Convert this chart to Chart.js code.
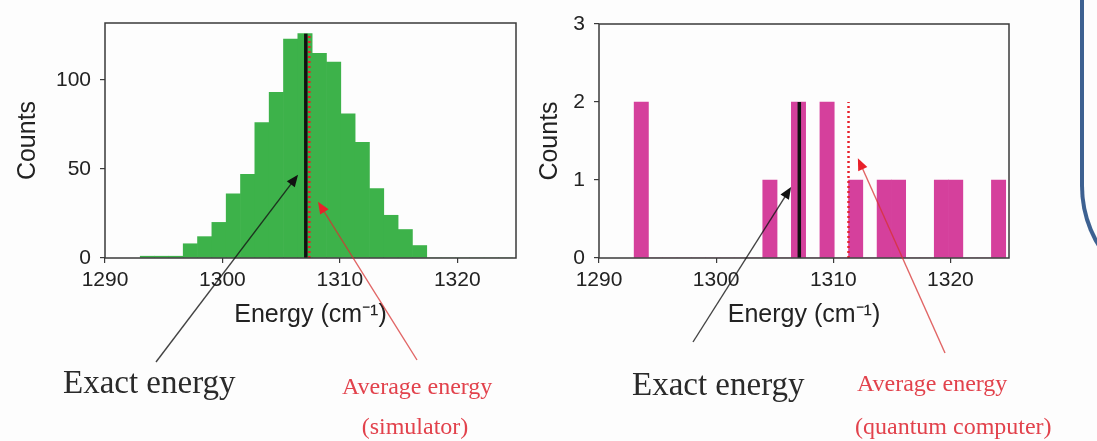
<!DOCTYPE html>
<html>
<head>
<meta charset="utf-8">
<script src="https://cdn.jsdelivr.net/npm/chart.js@4.4.1/dist/chart.umd.min.js"></script>
<style>
  html, body { margin: 0; padding: 0; background: #fdfdfd; }
  body { width: 1097px; height: 441px; overflow: hidden; position: relative; }
  canvas { position: absolute; top: 0; }
  #simChart { left: 0; }
  #qcChart { left: 520px; }
  .slide-edge {
    position: absolute; left: 1080px; top: -20px; width: 200px; height: 322px;
    box-sizing: border-box;
    border-left: 4px solid #3d6191; border-bottom: 4px solid #3d6191;
    border-bottom-left-radius: 116px;
  }
</style>
</head>
<body>
<canvas id="simChart" width="520" height="441"></canvas>
<canvas id="qcChart" width="577" height="441"></canvas>
<div class="slide-edge"></div>
<script>
// histogram bin edges (cm^-1), shared by both panels
const binEdges = [1293.00, 1294.22, 1295.44, 1296.66, 1297.88, 1299.10, 1300.32, 1301.54, 1302.76,
    1303.98, 1305.20, 1306.42, 1307.64, 1308.86, 1310.08, 1311.30, 1312.52, 1313.74, 1314.96,
    1316.18, 1317.40, 1318.62, 1319.84, 1321.06, 1322.28, 1323.50, 1324.72];

// counts per bin
const simCounts = [1, 1, 1, 8, 12, 20, 36, 47, 76, 93, 123, 126, 115, 110, 81, 65, 39, 24, 16, 7, 0, 0, 0, 0, 0, 0];
const qcCounts = [2, 0, 0, 0, 0, 0, 0, 0, 0, 1, 0, 2, 0, 2, 0, 1, 0, 1, 1, 0, 0, 1, 1, 0, 0, 1];

// reference energies
const exactEnergy = 1307.1;
const simAverage = 1307.4;
const qcAverage = 1311.3;

// axes
const xRange = [1290, 1325];
const xTicks = [1290, 1300, 1310, 1320];
const simYMax = 132;
const simYTicks = [0, 50, 100];
const qcYMax = 3;
const qcYTicks = [0, 1, 2, 3];

document.addEventListener('DOMContentLoaded', function () {
    const binCenters = binEdges.slice(0, -1).map((e, i) => (e + binEdges[i + 1]) / 2);
    const tickFont = { family: '"Liberation Sans", Arial, sans-serif', size: 21 };
    const titleFont = { family: '"Liberation Sans", Arial, sans-serif', size: 25 };
    const serif = '"Liberation Serif", "DejaVu Serif", serif';

    // box around the plot area, like matplotlib spines
    const framePlugin = {
        id: 'frame',
        afterDatasetsDraw(chart) {
            const { ctx, chartArea: a } = chart;
            ctx.save();
            ctx.strokeStyle = '#3a3a3a';
            ctx.lineWidth = 1.5;
            ctx.strokeRect(a.left, a.top, a.right - a.left, a.bottom - a.top);
            ctx.restore();
        }
    };

    // arrows + captions; tail in canvas pixels, tip in data units
    const notesPlugin = {
        id: 'notes',
        afterDraw(chart, args, opts) {
            const { ctx, scales } = chart;
            ctx.save();
            opts.arrows.forEach(a => {
                const tx = scales.x.getPixelForValue(a.tip[0]);
                const ty = scales.y.getPixelForValue(a.tip[1]);
                const [fx, fy] = a.tail;
                const ang = Math.atan2(ty - fy, tx - fx);
                ctx.strokeStyle = a.color;
                ctx.lineWidth = 1.4;
                ctx.beginPath();
                ctx.moveTo(fx, fy);
                ctx.lineTo(tx - 8 * Math.cos(ang), ty - 8 * Math.sin(ang));
                ctx.stroke();
                ctx.fillStyle = a.head;
                ctx.beginPath();
                ctx.moveTo(tx, ty);
                ctx.lineTo(tx - 12 * Math.cos(ang) + 5 * Math.sin(ang), ty - 12 * Math.sin(ang) - 5 * Math.cos(ang));
                ctx.lineTo(tx - 12 * Math.cos(ang) - 5 * Math.sin(ang), ty - 12 * Math.sin(ang) + 5 * Math.cos(ang));
                ctx.closePath();
                ctx.fill();
            });
            ctx.textBaseline = 'middle';
            opts.labels.forEach(l => {
                ctx.font = l.size + 'px ' + serif;
                ctx.fillStyle = l.color;
                ctx.textAlign = l.align || 'left';
                ctx.fillText(l.text, l.x, l.y);
            });
            ctx.restore();
        }
    };

    function makeChart(id, counts, barColor, yMax, yTicks, average, pad, yWidth, notes) {
        const peak = Math.max(...counts);
        const ctx = document.getElementById(id).getContext('2d');
        return new Chart(ctx, {
            type: 'bar',
            data: {
                datasets: [
                    {
                        type: 'line',
                        label: 'Average energy',
                        data: [{ x: average, y: 0 }, { x: average, y: peak }],
                        borderColor: '#e8202a',
                        borderWidth: 2.5,
                        borderDash: [2, 3],
                        pointRadius: 0,
                        order: 1
                    },
                    {
                        type: 'line',
                        label: 'Exact energy',
                        data: [{ x: exactEnergy, y: 0 }, { x: exactEnergy, y: peak }],
                        borderColor: '#111111',
                        borderWidth: 3.5,
                        pointRadius: 0,
                        order: 2
                    },
                    {
                        label: 'Counts',
                        data: binCenters.map((c, i) => ({ x: c, y: counts[i] })),
                        backgroundColor: barColor,
                        borderWidth: 0,
                        barPercentage: 1,
                        categoryPercentage: 1,
                        order: 3
                    }
                ]
            },
            options: {
                responsive: false,
                animation: false,
                layout: { padding: pad },
                plugins: {
                    legend: { display: false },
                    tooltip: { enabled: false },
                    notes: notes
                },
                scales: {
                    x: {
                        type: 'linear',
                        offset: false,
                        min: xRange[0],
                        max: xRange[1],
                        afterBuildTicks: s => { s.ticks = xTicks.map(v => ({ value: v })); },
                        afterFit: s => { s.height = 76; },
                        grid: { offset: false, drawOnChartArea: false, drawTicks: true, tickLength: 5, color: '#3a3a3a', lineWidth: 1.2 },
                        border: { display: false },
                        ticks: { font: tickFont, color: '#222', padding: 5, autoSkip: false, maxRotation: 0,
                            callback: v => String(v) },
                        title: { display: true, text: 'Energy (cm⁻¹)', font: titleFont, color: '#222', padding: { top: 0, bottom: 4 } }
                    },
                    y: {
                        min: 0,
                        max: yMax,
                        afterBuildTicks: s => { s.ticks = yTicks.map(v => ({ value: v })); },
                        afterFit: s => { s.width = yWidth; },
                        grid: { drawOnChartArea: false, drawTicks: true, tickLength: 5, color: '#3a3a3a', lineWidth: 1.2 },
                        border: { display: false },
                        ticks: { font: tickFont, color: '#222', padding: 9, callback: v => String(v) },
                        title: { display: true, text: 'Counts', font: titleFont, color: '#222', padding: { top: 4, bottom: 0 } }
                    }
                }
            },
            plugins: [framePlugin, notesPlugin]
        });
    }

    makeChart('simChart', simCounts, '#3db24a', simYMax, simYTicks, simAverage,
        { left: 9, right: 4, top: 23, bottom: 107 }, 96, {
            arrows: [
                { tail: [156, 362], tip: [1306.44, 46.8], color: 'rgba(20,20,20,0.8)', head: '#111' },
                { tail: [417, 360], tip: [1308.14, 31.6], color: 'rgba(215,50,50,0.75)', head: '#e8202a' }
            ],
            labels: [
                { text: 'Exact energy', x: 63, y: 384, size: 33, color: '#2a2a2a' },
                { text: 'Average energy', x: 342, y: 388, size: 24, color: '#e2424c' },
                { text: '(simulator)', x: 415, y: 428, size: 24, color: '#e2424c', align: 'center' }
            ]
        });

    makeChart('qcChart', qcCounts, '#d5409c', qcYMax, qcYTicks, qcAverage,
        { left: 11, right: 88, top: 24, bottom: 107 }, 68, {
            arrows: [
                { tail: [693 - 520, 342], tip: [1306.4, 0.91], color: 'rgba(20,20,20,0.8)', head: '#111' },
                { tail: [945 - 520, 353], tip: [1312.1, 1.28], color: 'rgba(215,50,50,0.75)', head: '#e8202a' }
            ],
            labels: [
                { text: 'Exact energy', x: 632 - 520, y: 386, size: 33, color: '#2a2a2a' },
                { text: 'Average energy', x: 857 - 520, y: 385, size: 24, color: '#e2424c' },
                { text: '(quantum computer)', x: 855 - 520, y: 428, size: 24, color: '#e2424c' }
            ]
        });
});
</script>
</body>
</html>
